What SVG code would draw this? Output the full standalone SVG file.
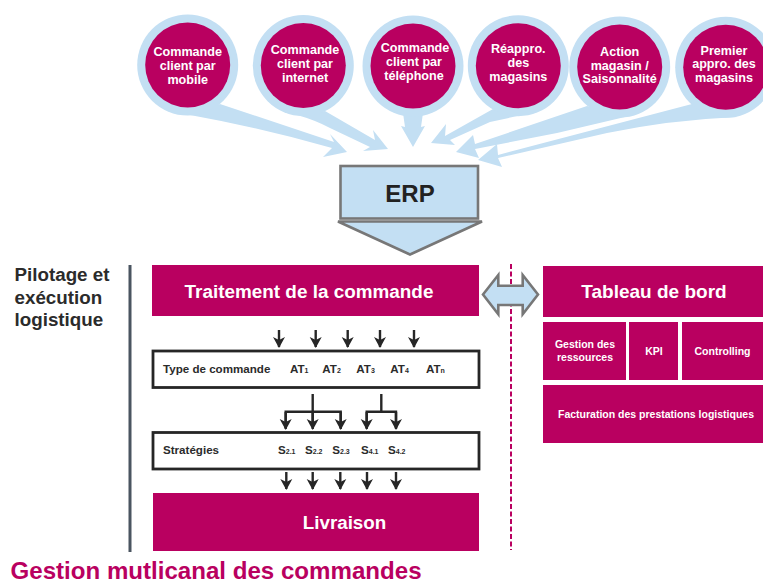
<svg xmlns="http://www.w3.org/2000/svg" width="763" height="579" viewBox="0 0 763 579">
<style>
text{font-family:"Liberation Sans",Arial,sans-serif;font-weight:700}
.c{text-anchor:middle}
.w{fill:#fff}
.ring{fill:#c3dff3}
.disc{fill:#b90060}
.bar{fill:#b90060}
.ct{fill:#fff;font-size:12.6px;text-anchor:middle}
.m{font-size:10.5px;fill:#fff;text-anchor:middle}
.box{fill:#fff;stroke:#262626;stroke-width:2.8}
.k{fill:#2b2b2b;font-size:11.6px}
.s{font-size:7px}
.ar{fill:none;stroke:#262626;stroke-width:2.4;marker-end:url(#ah)}
.ln{fill:none;stroke:#262626;stroke-width:2.4}
.gb{fill:#c3dff3;stroke:#777;stroke-width:2.6}
</style>
<defs>
<marker id="ah" markerUnits="userSpaceOnUse" markerWidth="14" markerHeight="14" refX="10" refY="6.5" orient="auto">
<path d="M0,0.500 L11,6.500 L0,12.500 L3,6.500 Z" fill="#262626"/>
</marker>
</defs>
<rect width="763" height="579" fill="#fff"/>
<g id="connectors">
<path class="ring" d="M220,104 L334,142 L330,134 L347,152 L323,157 L332,148 Q262,128 190,115 Z"/>
<path class="ring" d="M325,111 L375,140 L373,130 L388,149 L363,151 L370,147 L330,128 Q315,120 297,115 Z"/>
<path class="ring" d="M403,113 L405,127 L401,126 L413,147 L425,126 L421,127 L423,113 Z"/>
<path class="ring" d="M493,109 L445,136 L446,124 L431,143 L455,145 L450,140 L490,122 L522,115 Z"/>
<path class="ring" d="M587,106 L475,144 L473,135 L456,152 L479,158 L475,149 L557,133 L625,117 Z"/>
<path class="ring" d="M692,104 L498,155 L497,144 L478,160 L502,167 L498,158 L607,133 Q670,120 737,117 Z"/>
<g class="ln"><path d="M312.700,394 V426"/><path d="M285.700,428 V411.700 H340.700 V428"/><path d="M381.300,394 V411.700"/><path d="M366.700,428 V411.700 H396 V428"/></g>
<path class="ar" d="M279,330 V347"/><path class="ar" d="M315.700,330 V347"/><path class="ar" d="M347.700,330 V347"/><path class="ar" d="M380,330 V347"/><path class="ar" d="M414,330 V347"/>
<path class="ar" d="M285.700,412 V429"/><path class="ar" d="M312.700,412 V429"/><path class="ar" d="M340.700,412 V429"/><path class="ar" d="M366.700,412 V429"/><path class="ar" d="M396,412 V429"/>
<path class="ar" d="M286.300,472 V489"/><path class="ar" d="M312.700,472 V489"/><path class="ar" d="M340.300,472 V489"/><path class="ar" d="M367,472 V489"/><path class="ar" d="M396,472 V489"/>
<path d="M511,264 V550" fill="none" stroke="#b90060" stroke-width="2" stroke-dasharray="5 2.500"/>
<path id="double-arrow" class="gb" d="M483,294.500 L498.300,275 V285.700 H522.700 V275 L538,294.500 L522.700,314.300 V305 H498.300 V314.300 Z"/>
</g>
<g id="n-mobile"><circle class="ring" cx="187.700" cy="65" r="50.500"/><circle class="disc" cx="187.700" cy="65" r="42.500"/><text class="ct" x="187.700" y="56">Commande</text><text class="ct" x="187.700" y="70">client par</text><text class="ct" x="187.700" y="84">mobile</text></g>
<g id="n-internet"><circle class="ring" cx="303.300" cy="65.500" r="50.500"/><circle class="disc" cx="303.300" cy="65.500" r="42.500"/><text class="ct" x="305" y="54">Commande</text><text class="ct" x="305" y="68">client par</text><text class="ct" x="305" y="82">internet</text></g>
<g id="n-telephone"><circle class="ring" cx="413" cy="66" r="50.500"/><circle class="disc" cx="413" cy="66" r="42.500"/><text class="ct" x="415" y="52">Commande</text><text class="ct" x="414" y="66">client par</text><text class="ct" x="414" y="80">téléphone</text></g>
<g id="n-reappro"><circle class="ring" cx="518.300" cy="65.700" r="50.500"/><circle class="disc" cx="518.300" cy="65.700" r="42.500"/><text class="ct" x="518.300" y="53">Réappro.</text><text class="ct" x="518.300" y="67">des</text><text class="ct" x="518.300" y="81">magasins</text></g>
<g id="n-action"><circle class="ring" cx="619.700" cy="67" r="50.500"/><circle class="disc" cx="619.700" cy="67" r="42.500"/><text class="ct" x="619.700" y="56">Action</text><text class="ct" x="619.700" y="70">magasin /</text><text class="ct" x="619.700" y="83">Saisonnalité</text></g>
<g id="n-premier"><circle class="ring" cx="725.700" cy="67.300" r="50.500"/><circle class="disc" cx="725.700" cy="67.300" r="42.500"/><text class="ct" x="724" y="55">Premier</text><text class="ct" x="724" y="68">appro. des</text><text class="ct" x="724" y="82">magasins</text></g>
<g id="n-erp">
<rect class="gb" x="340.500" y="166" width="137.500" height="52.500"/>
<path class="gb" d="M338,221.500 H482 L410,254.500 Z"/>
<text class="c" x="410" y="202" font-size="24" fill="#222">ERP</text>
</g>
<g id="n-pilotage"><text x="14.500" y="281" font-size="18.800" fill="#2b2b2b">Pilotage et</text><text x="14.500" y="304" font-size="18.800" fill="#2b2b2b">exécution</text><text x="14.500" y="325.500" font-size="18.800" fill="#2b2b2b">logistique</text><rect x="128.500" y="265" width="3" height="287" fill="#4a5560"/></g>
<g id="n-traitement"><rect class="bar" x="152" y="265" width="327" height="51"/><text class="c w" x="309" y="298" font-size="18.900">Traitement de la commande</text></g>
<g id="n-type"><rect class="box" x="153" y="351" width="326" height="36.500"/><text class="k" x="163" y="373">Type de commande</text>
<text class="k" x="290" y="373">AT<tspan class="s">1</tspan></text><text class="k" x="322.300" y="373">AT<tspan class="s">2</tspan></text><text class="k" x="356.300" y="373">AT<tspan class="s">3</tspan></text><text class="k" x="390.300" y="373">AT<tspan class="s">4</tspan></text><text class="k" x="426" y="373">AT<tspan class="s">n</tspan></text></g>
<g id="n-strategies"><rect class="box" x="153" y="432.500" width="326" height="36.500"/><text class="k" x="163" y="454">Stratégies</text>
<text class="k" x="278" y="454">S<tspan class="s">2.1</tspan></text><text class="k" x="305" y="454">S<tspan class="s">2.2</tspan></text><text class="k" x="332.300" y="454">S<tspan class="s">2.3</tspan></text><text class="k" x="361" y="454">S<tspan class="s">4.1</tspan></text><text class="k" x="388" y="454">S<tspan class="s">4.2</tspan></text></g>
<g id="n-livraison"><rect class="bar" x="153" y="493" width="326" height="58"/><text class="c w" x="344.500" y="529" font-size="18.800">Livraison</text></g>
<g id="n-tableau"><rect class="bar" x="543" y="266" width="220" height="51"/><text class="c w" x="654" y="298" font-size="19">Tableau de bord</text></g>
<g id="n-gestion"><rect class="bar" x="543" y="322" width="83" height="58"/><text class="m" x="585" y="348">Gestion des</text><text class="m" x="585" y="361">ressources</text></g>
<g id="n-kpi"><rect class="bar" x="629" y="322" width="49" height="58"/><text class="m" x="654" y="355">KPI</text></g>
<g id="n-controlling"><rect class="bar" x="682" y="322" width="81" height="58"/><text class="m" x="722.500" y="355">Controlling</text></g>
<g id="n-facturation"><rect class="bar" x="543" y="385" width="220" height="58"/><text class="m" x="656" y="418">Facturation des prestations logistiques</text></g>
<text id="title" x="10.500" y="579" font-size="24.100" fill="#b90060">Gestion mutlicanal des commandes</text>
</svg>
